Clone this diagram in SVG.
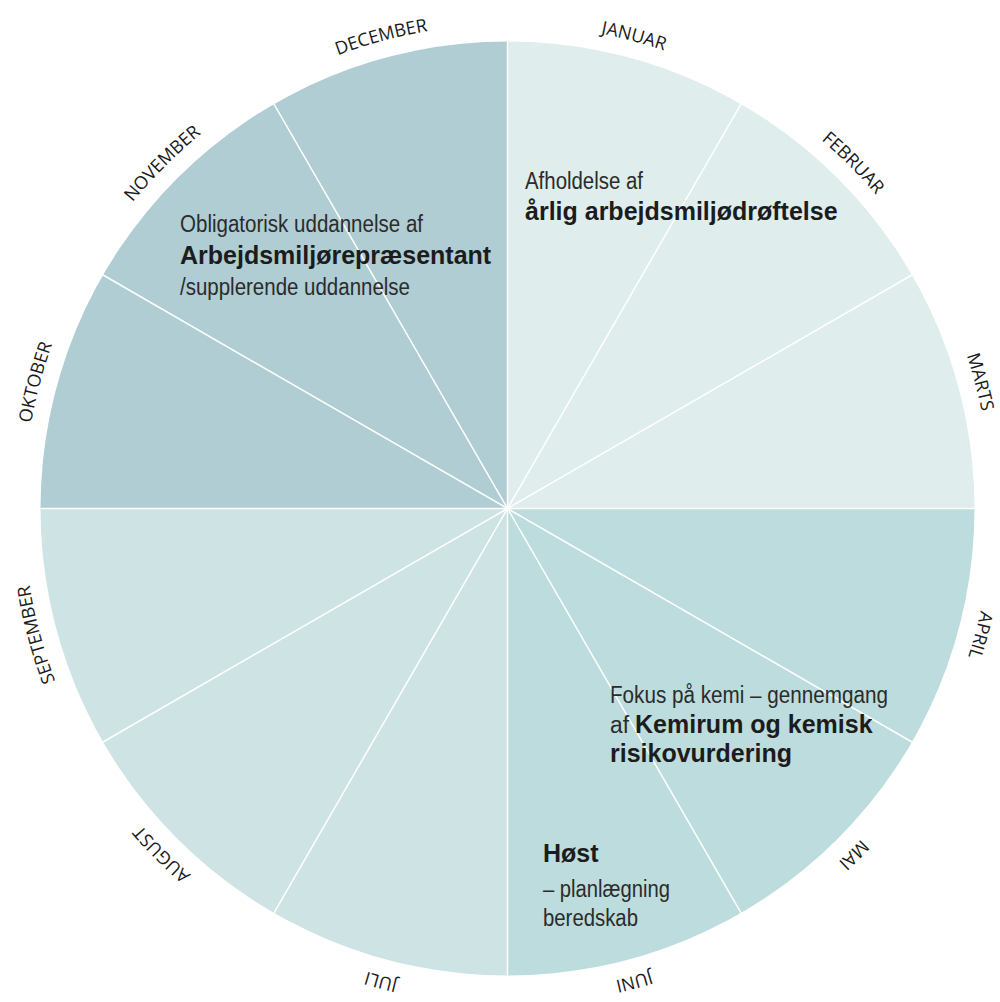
<svg xmlns="http://www.w3.org/2000/svg" xmlns:xlink="http://www.w3.org/1999/xlink" width="1000" height="1002" viewBox="0 0 1000 1002">
  <style>
    .reg { font-family: "Liberation Sans", Arial, sans-serif; font-size: 23px; fill: #2b2b2b; }
    .bold { font-family: "Liberation Sans", Arial, sans-serif; font-size: 25px; font-weight: bold; fill: #1c1c1c; }
    .month { font-family: "Open Sans", "Liberation Sans", sans-serif; font-size: 18px; fill: #1a1a1a; text-anchor: middle; }
    .div { stroke: #ffffff; stroke-width: 1.5; fill: none; }
  </style>
  <defs>
    <path id="ring" d="M 507.5,24.5 A 484,484 0 0 1 507.5,992.5 A 484,484 0 0 1 507.5,24.5"/>
  </defs>
  <rect width="1000" height="1002" fill="#ffffff"/>

  <g id="q1-jan-mar">
    <path d="M 507.5,508.5 L 507.5,41.5 A 467,467 0 0 1 974.5,508.5 Z" fill="#dfeded"/>
  </g>
  <g id="q2-apr-jun">
    <path d="M 507.5,508.5 L 974.5,508.5 A 467,467 0 0 1 507.5,975.5 Z" fill="#bddcdd"/>
  </g>
  <g id="q3-jul-sep">
    <path d="M 507.5,508.5 L 507.5,975.5 A 467,467 0 0 1 40.5,508.5 Z" fill="#cde3e4"/>
  </g>
  <g id="q4-oct-dec">
    <path d="M 507.5,508.5 L 40.5,508.5 A 467,467 0 0 1 507.5,41.5 Z" fill="#afcdd3"/>
  </g>

  <g id="dividers" class="div">
    <line x1="507.5" y1="41.5" x2="507.5" y2="975.5"/>
    <line x1="741" y1="104.1" x2="274" y2="912.9"/>
    <line x1="911.9" y1="275" x2="103.1" y2="742"/>
    <line x1="974.5" y1="508.5" x2="40.5" y2="508.5"/>
    <line x1="911.9" y1="742" x2="103.1" y2="275"/>
    <line x1="741" y1="912.9" x2="274" y2="104.1"/>
  </g>

  <g id="months">
    <text class="month"><textPath href="#ring" xlink:href="#ring" startOffset="4.1667%">JANUAR</textPath></text>
    <text class="month"><textPath href="#ring" xlink:href="#ring" startOffset="12.5%">FEBRUAR</textPath></text>
    <text class="month"><textPath href="#ring" xlink:href="#ring" startOffset="20.8333%">MARTS</textPath></text>
    <text class="month"><textPath href="#ring" xlink:href="#ring" startOffset="29.1667%">APRIL</textPath></text>
    <text class="month"><textPath href="#ring" xlink:href="#ring" startOffset="37.5%">MAI</textPath></text>
    <text class="month"><textPath href="#ring" xlink:href="#ring" startOffset="45.8333%">JUNI</textPath></text>
    <text class="month"><textPath href="#ring" xlink:href="#ring" startOffset="54.1667%">JULI</textPath></text>
    <text class="month"><textPath href="#ring" xlink:href="#ring" startOffset="62.5%">AUGUST</textPath></text>
    <text class="month"><textPath href="#ring" xlink:href="#ring" startOffset="70.8333%">SEPTEMBER</textPath></text>
    <text class="month"><textPath href="#ring" xlink:href="#ring" startOffset="79.1667%">OKTOBER</textPath></text>
    <text class="month"><textPath href="#ring" xlink:href="#ring" startOffset="87.5%">NOVEMBER</textPath></text>
    <text class="month"><textPath href="#ring" xlink:href="#ring" startOffset="95.8333%">DECEMBER</textPath></text>
  </g>

  <g id="note-drøftelse">
    <text class="reg" x="525" y="188.5" textLength="118" lengthAdjust="spacingAndGlyphs">Afholdelse af</text>
    <text class="bold" x="525" y="220">årlig arbejdsmiljødrøftelse</text>
  </g>

  <g id="note-uddannelse">
    <text class="reg" x="180" y="231.5" textLength="243" lengthAdjust="spacingAndGlyphs">Obligatorisk uddannelse af</text>
    <text class="bold" x="180" y="264">Arbejdsmiljørepræsentant</text>
    <text class="reg" x="180" y="295" textLength="230" lengthAdjust="spacingAndGlyphs">/supplerende uddannelse</text>
  </g>

  <g id="note-kemi">
    <text class="reg" x="610" y="703" textLength="278" lengthAdjust="spacingAndGlyphs">Fokus på kemi – gennemgang</text>
    <text class="reg" x="610" y="733" textLength="19" lengthAdjust="spacingAndGlyphs">af</text>
    <text class="bold" x="635" y="733">Kemirum og kemisk</text>
    <text class="bold" x="610" y="762">risikovurdering</text>
  </g>

  <g id="note-høst">
    <text class="bold" x="543" y="862">Høst</text>
    <text class="reg" x="543" y="896.5" textLength="127" lengthAdjust="spacingAndGlyphs">– planlægning</text>
    <text class="reg" x="543" y="925.5" textLength="95" lengthAdjust="spacingAndGlyphs">beredskab</text>
  </g>
</svg>
